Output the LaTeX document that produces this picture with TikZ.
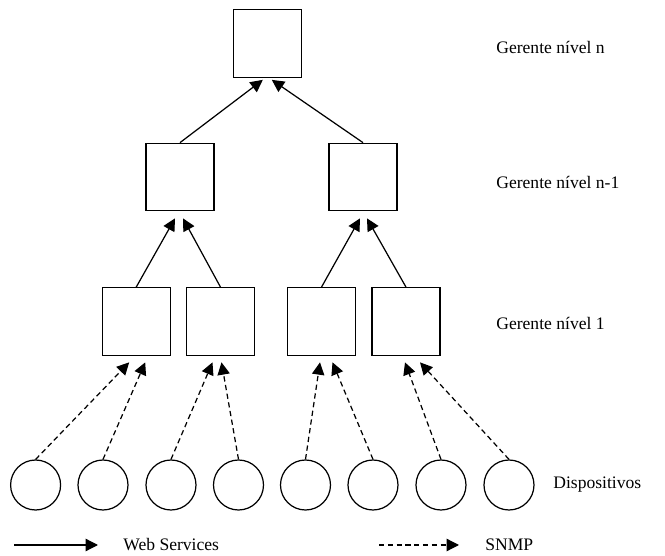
\documentclass[tikz,border=0pt]{standalone}
\usepackage{fontspec}
\setmainfont{Liberation Serif}
\usepackage{tikz}
\usetikzlibrary{arrows.meta, positioning}
\usetikzlibrary{calc}

\begin{document}
\begin{tikzpicture}[
		box/.style = {draw, line width = 0.7pt, minimum width = 1.36cm, minimum height = 1.35cm, inner sep = 0pt},
		dev/.style = {draw, line width = 0.7pt, circle, minimum size = 1cm, inner sep = 0pt},
		lbl/.style = {anchor = west, inner sep = 0pt},
		ws/.style = {line width = 0.7pt, -{Triangle[length=7pt, width=7pt]}},
		snmp/.style = {ws, dash pattern = on 3pt off 2pt}]
		\useasboundingbox (0,0) rectangle (13.3,-11.12);

		% gerentes
		\draw (5.356cm, -0.87cm) node[box] (top) {}
		(3.6cm, -3.54cm) node[box] (mid1) {}
		(7.26cm, -3.54cm) node[box] (mid2) {}
		(2.724cm, -6.43cm) node[box] (low1) {}
		(4.41cm, -6.43cm) node[box] (low2) {}
		(6.43cm, -6.43cm) node[box] (low3) {}
		(8.12cm, -6.43cm) node[box] (low4) {};

		% dispositivos
		\foreach \x [count=\i] in {0.712, 2.06, 3.42, 4.77, 6.11, 7.46, 8.82, 10.18}
			\node[dev] (dev\i) at (\x, -9.7) {};

		% rotulos
		\node[lbl] (lbn) at (9.92, -0.94) {Gerente nível n};
		\node[lbl] (lbm) at (9.92, -3.64) {Gerente nível n-1};
		\node[lbl] (lb1) at (9.92, -6.46) {Gerente nível 1};
		\node[lbl] (lbd) at (11.06, -9.7) {Dispositivos};

		\draw[ws] (mid1.north) -- ($(top.south)+(-0.1,-0.04)$);
		\draw[ws] (mid2.north) -- ($(top.south)+(0.08,-0.04)$);
		\draw[ws] (low1.north) -- ($(mid1.south)+(-0.1,-0.14)$);
		\draw[ws] (low2.north) -- ($(mid1.south)+(0.06,-0.14)$);
		\draw[ws] (low3.north) -- ($(mid2.south)+(-0.06,-0.14)$);
		\draw[ws] (low4.north) -- ($(mid2.south)+(0.08,-0.14)$);

		\draw[snmp] (dev1.north) -- ($(low1.south)+(-0.14,-0.13)$);
		\draw[snmp] (dev2.north) -- ($(low1.south)+(0.18,-0.13)$);
		\draw[snmp] (dev3.north) -- ($(low2.south)+(-0.16,-0.13)$);
		\draw[snmp] (dev4.north) -- ($(low2.south)+(0.02,-0.13)$);
		\draw[snmp] (dev5.north) -- ($(low3.south)+(-0.03,-0.13)$);
		\draw[snmp] (dev6.north) -- ($(low3.south)+(0.22,-0.13)$);
		\draw[snmp] (dev7.north) -- ($(low4.south)+(-0.02,-0.13)$);
		\draw[snmp] (dev8.north) -- ($(low4.south)+(0.28,-0.13)$);

		% legenda
		\coordinate (wsa) at (0.28, -10.9);
		\coordinate (wsb) at (1.96, -10.9);
		\coordinate (sna) at (7.58, -10.9);
		\coordinate (snb) at (9.18, -10.9);
		\draw[ws] (wsa) -- (wsb);
		\draw[snmp] (sna) -- (snb);
		\node[lbl] (lbws) at (2.46, -10.9) {Web Services};
		\node[lbl] (lbsn) at (9.7, -10.9) {SNMP};
	\end{tikzpicture}
\end{document}
